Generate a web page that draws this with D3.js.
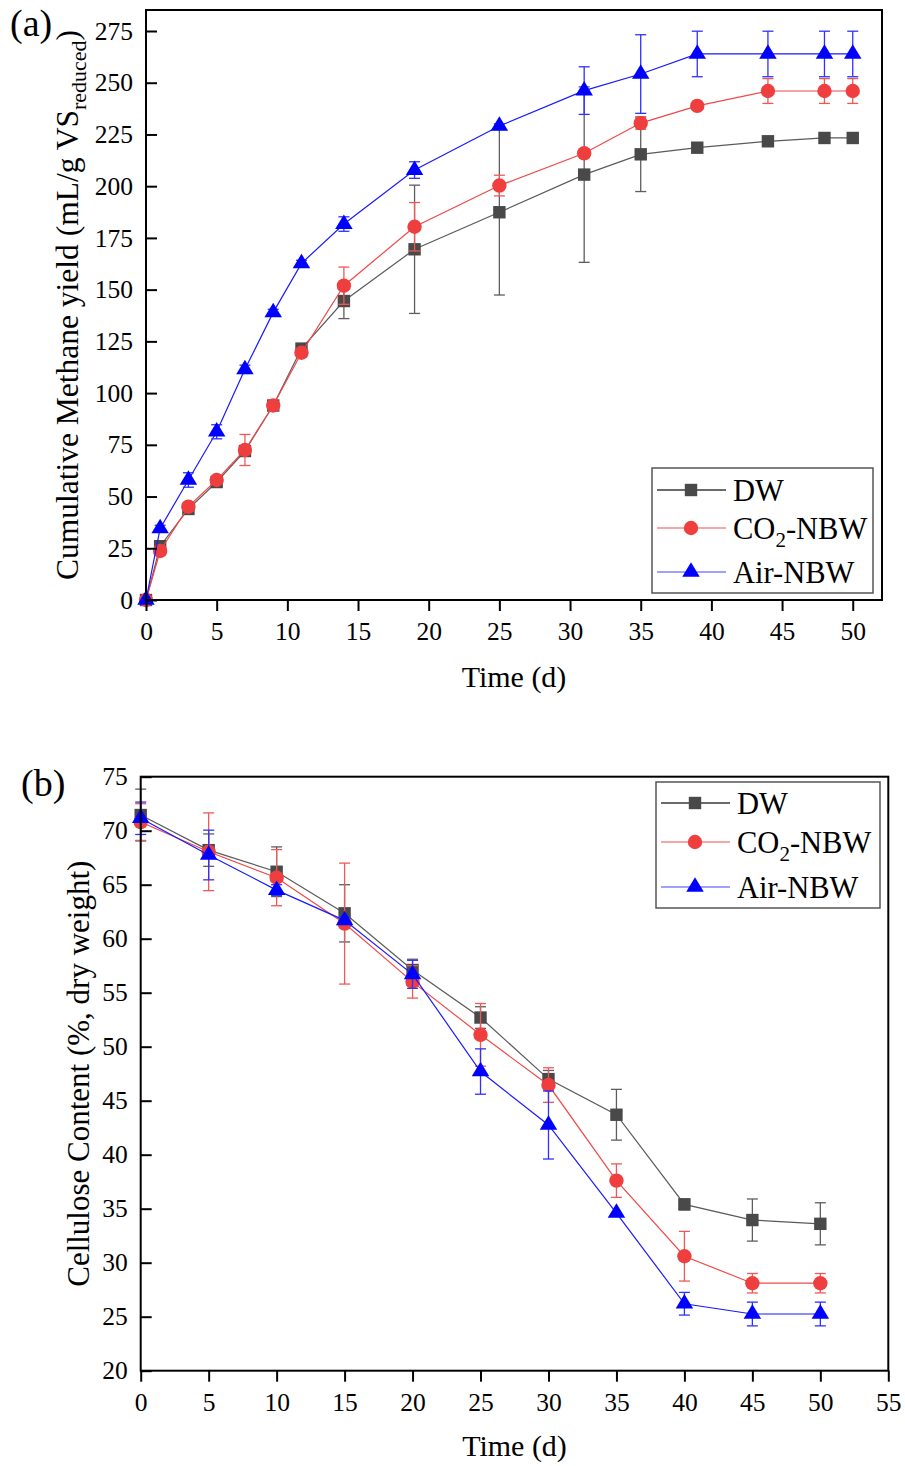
<!DOCTYPE html>
<html>
<head>
<meta charset="utf-8">
<script src="https://cdn.jsdelivr.net/npm/d3@7"></script>
<style>
  body { margin: 0; background: #fff; }
  svg { display: block; }
  text { font-family: "Liberation Serif", "Times New Roman", serif; fill: #000; }
</style>
</head>
<body>
<svg id="chart" width="905" height="1466"></svg>
<script>
// ---- data, panel (a): cumulative methane yield
const daysA = [0, 1, 3, 5, 7, 9, 11, 14, 19, 25, 31, 35, 39, 44, 48, 50];
const dwA = [0, 26, 44, 57, 72, 94, 121.5, 144.5, 169.5, 187.4, 205.6, 215.4, 218.6, 221.7, 223.3, 223.3];
const dwAErr = [0, 2, 2, 1.5, 2, 2, 2, 8.5, 31, 40, 42.4, 18, 0.5, 0.5, 0.5, 0.5];
const co2A = [0, 23.7, 45.1, 58, 72.5, 94, 119.5, 151.9, 180.4, 200.3, 215.9, 230.5, 238.8, 246, 246, 246];
const co2AErr = [0, 2, 1.5, 1, 7.5, 2, 2, 9, 11.7, 5, 2, 3, 1, 6, 6, 6];
const airA = [0, 34.6, 58, 81.3, 111.5, 139, 162.7, 181.7, 207.8, 229.1, 246.2, 254.2, 263.9, 263.9, 263.9, 263.9];
const airAErr = [0, 1.5, 3.5, 3.4, 2, 1.5, 1.5, 3.5, 4, 1, 11.5, 19, 11, 11, 11, 11];
const yTicksA = d3.range(0, 276, 25);
const xTicksA = d3.range(0, 51, 5);

// ---- data, panel (b): cellulose content
const daysB = [0, 5, 10, 15, 20, 25, 30, 35, 40, 45, 50];
const dwB = [71.45, 68.2, 66.2, 62.35, 57.1, 52.7, 47.0, 43.7, 35.4, 33.95, 33.6];
const dwBErr = [2.4, 1.5, 2.3, 2.65, 1, 1, 0.8, 2.35, 0.5, 1.95, 1.95];
const co2B = [70.8, 68.05, 65.65, 61.4, 56.0, 51.1, 46.45, 37.6, 30.6, 28.1, 28.1];
const co2BErr = [1.7, 3.6, 2.6, 5.6, 1.5, 2.9, 1.6, 1.55, 2.3, 0.9, 0.9];
const airB = [71.15, 67.75, 64.5, 61.7, 56.7, 47.7, 42.75, 34.6, 26.2, 25.25, 25.25];
const airBErr = [1.5, 2.3, 0.5, 0.3, 1.3, 2.1, 3.15, 0, 1.05, 1.1, 1.1];
const yTicksB = d3.range(20, 76, 5);
const xTicksB = d3.range(0, 56, 5);

// series styles
const styles = [
  { name: "DW", shape: "square", fill: "#494949", line: "#5a5a5a", err: "#5e5e5e", legLine: "#3a3a3a" },
  { name: "CO2-NBW", shape: "circle", fill: "#ef3e3e", line: "#f04848", err: "#f05858", legLine: "#f28a8a" },
  { name: "Air-NBW", shape: "triangle", fill: "#0000ff", line: "#1a1aff", err: "#3030ff", legLine: "#8080ff" }
];

const FONT = '"Liberation Serif", "Times New Roman", serif';
const svg = d3.select("#chart");

function marker(g, shape, color, cx, cy) {
  if (shape === "square") {
    g.append("rect").attr("x", cx - 6.2).attr("y", cy - 6.2)
      .attr("width", 12.4).attr("height", 12.4).attr("fill", color);
  } else if (shape === "circle") {
    g.append("circle").attr("cx", cx).attr("cy", cy).attr("r", 7.2).attr("fill", color);
  } else {
    // centroid at the data point
    const h = 14.5, w = 17.5;
    g.append("path")
      .attr("d", `M${cx},${cy - h * 2 / 3}L${cx + w / 2},${cy + h / 3}L${cx - w / 2},${cy + h / 3}Z`)
      .attr("fill", color);
  }
}

function drawPanel(cfg) {
  const x = d3.scaleLinear().domain(cfg.xDomain).range([cfg.left, cfg.right]);
  const y = d3.scaleLinear().domain(cfg.yDomain).range([cfg.bottom, cfg.top]);
  const g = svg.append("g");

  // series
  cfg.series.forEach((s, k) => {
    const st = styles[k];
    const pts = cfg.days.map((d, i) => ({ d, v: s.vals[i], e: s.errs[i] }));
    const sg = g.append("g");

    sg.append("path").datum(pts)
      .attr("d", d3.line().x(p => x(p.d)).y(p => y(p.v)))
      .attr("fill", "none").attr("stroke", st.line).attr("stroke-width", 1.2);

    pts.filter(p => p.e > 0).forEach(p => {
      const px = x(p.d), y1 = y(p.v + p.e), y2 = y(p.v - p.e);
      sg.append("line").attr("x1", px).attr("x2", px).attr("y1", y1).attr("y2", y2)
        .attr("stroke", st.err).attr("stroke-width", 1.3);
      [y1, y2].forEach(yy => {
        sg.append("line").attr("x1", px - 5.5).attr("x2", px + 5.5).attr("y1", yy).attr("y2", yy)
          .attr("stroke", st.err).attr("stroke-width", 1.3);
      });
    });

    pts.forEach(p => marker(sg, st.shape, st.fill, x(p.d), y(p.v)));
  });

  // frame
  g.append("rect")
    .attr("x", cfg.left).attr("y", cfg.top)
    .attr("width", cfg.right - cfg.left).attr("height", cfg.bottom - cfg.top)
    .attr("fill", "none").attr("stroke", "#000").attr("stroke-width", 2);

  // y axis: ticks point inward
  const ya = g.append("g").attr("transform", `translate(${cfg.left},0)`)
    .call(d3.axisLeft(y).tickValues(cfg.yTicks).tickSizeInner(-11).tickSizeOuter(0).tickPadding(13));
  ya.attr("font-family", FONT).attr("font-size", 25.5);
  ya.select(".domain").remove();
  ya.selectAll("line").attr("stroke-width", 2);
  ya.selectAll("text").style("font-family", FONT).style("font-size", "25.5px");

  // x axis: ticks point outward
  const xa = g.append("g").attr("transform", `translate(0,${cfg.bottom})`)
    .call(d3.axisBottom(x).tickValues(cfg.xTicks).tickSize(11).tickPadding(11));
  xa.attr("font-family", FONT).attr("font-size", 25.5);
  xa.select(".domain").remove();
  xa.selectAll("line").attr("stroke-width", 2);
  xa.selectAll("text").style("font-family", FONT).style("font-size", "25.5px");

  // titles
  g.append("text").attr("x", (cfg.left + cfg.right) / 2).attr("y", cfg.xTitleY)
    .attr("text-anchor", "middle").attr("font-size", 30).text("Time (d)");

  const yt = g.append("text")
    .attr("transform", `translate(${cfg.yTitleX},${(cfg.top + cfg.bottom) / 2}) rotate(-90)`)
    .attr("text-anchor", "middle").attr("font-size", cfg.yTitleSize);
  cfg.yTitle(yt);

  g.append("text").attr("x", cfg.tagX).attr("y", cfg.tagY).attr("font-size", 38).text(cfg.tag);

  // legend
  const L = cfg.legend;
  const lg = g.append("g");
  lg.append("rect").attr("x", L.x).attr("y", L.y).attr("width", L.w).attr("height", L.h)
    .attr("fill", "#fff").attr("stroke", "#555").attr("stroke-width", 1.5);
  styles.forEach((st, k) => {
    const ry = L.y + L.rows[k];
    lg.append("line").attr("x1", L.x + 5).attr("x2", L.x + 74).attr("y1", ry).attr("y2", ry)
      .attr("stroke", st.legLine).attr("stroke-width", 1.5);
    marker(lg, st.shape, st.fill, L.x + 39, ry);
    const t = lg.append("text").attr("x", L.x + 81).attr("y", ry + 10.5).attr("font-size", 30.5);
    if (st.name === "CO2-NBW") {
      t.append("tspan").text("CO");
      t.append("tspan").attr("font-size", 21).attr("dy", 8).text("2");
      t.append("tspan").attr("dy", -8).text("-NBW");
    } else {
      t.text(st.name);
    }
  });
}

drawPanel({
  left: 146, right: 882, top: 10, bottom: 600,
  xDomain: [0, 52.07], yDomain: [0, 285.15],
  xTicks: xTicksA, yTicks: yTicksA,
  days: daysA,
  series: [
    { vals: dwA, errs: dwAErr },
    { vals: co2A, errs: co2AErr },
    { vals: airA, errs: airAErr }
  ],
  xTitleY: 687, yTitleX: 78, yTitleSize: 31.5,
  yTitle: t => {
    t.append("tspan").text("Cumulative Methane yield (mL/g VS");
    t.append("tspan").attr("font-size", 22).attr("dy", 8).text("reduced");
    t.append("tspan").attr("dy", -8).text(")");
  },
  tag: "(a)", tagX: 10, tagY: 36,
  legend: { x: 652, y: 468, w: 221, h: 125, rows: [22, 60, 104] }
});

drawPanel({
  left: 140.7, right: 888.3, top: 776.7, bottom: 1370.7,
  xDomain: [0, 55], yDomain: [20, 75],
  xTicks: xTicksB, yTicks: yTicksB,
  days: daysB,
  series: [
    { vals: dwB, errs: dwBErr },
    { vals: co2B, errs: co2BErr },
    { vals: airB, errs: airBErr }
  ],
  xTitleY: 1456, yTitleX: 89, yTitleSize: 31,
  yTitle: t => t.text("Cellulose Content (%, dry weight)"),
  tag: "(b)", tagX: 21, tagY: 796,
  legend: { x: 656, y: 782, w: 224, h: 126, rows: [21, 60, 105] }
});
</script>
</body>
</html>
